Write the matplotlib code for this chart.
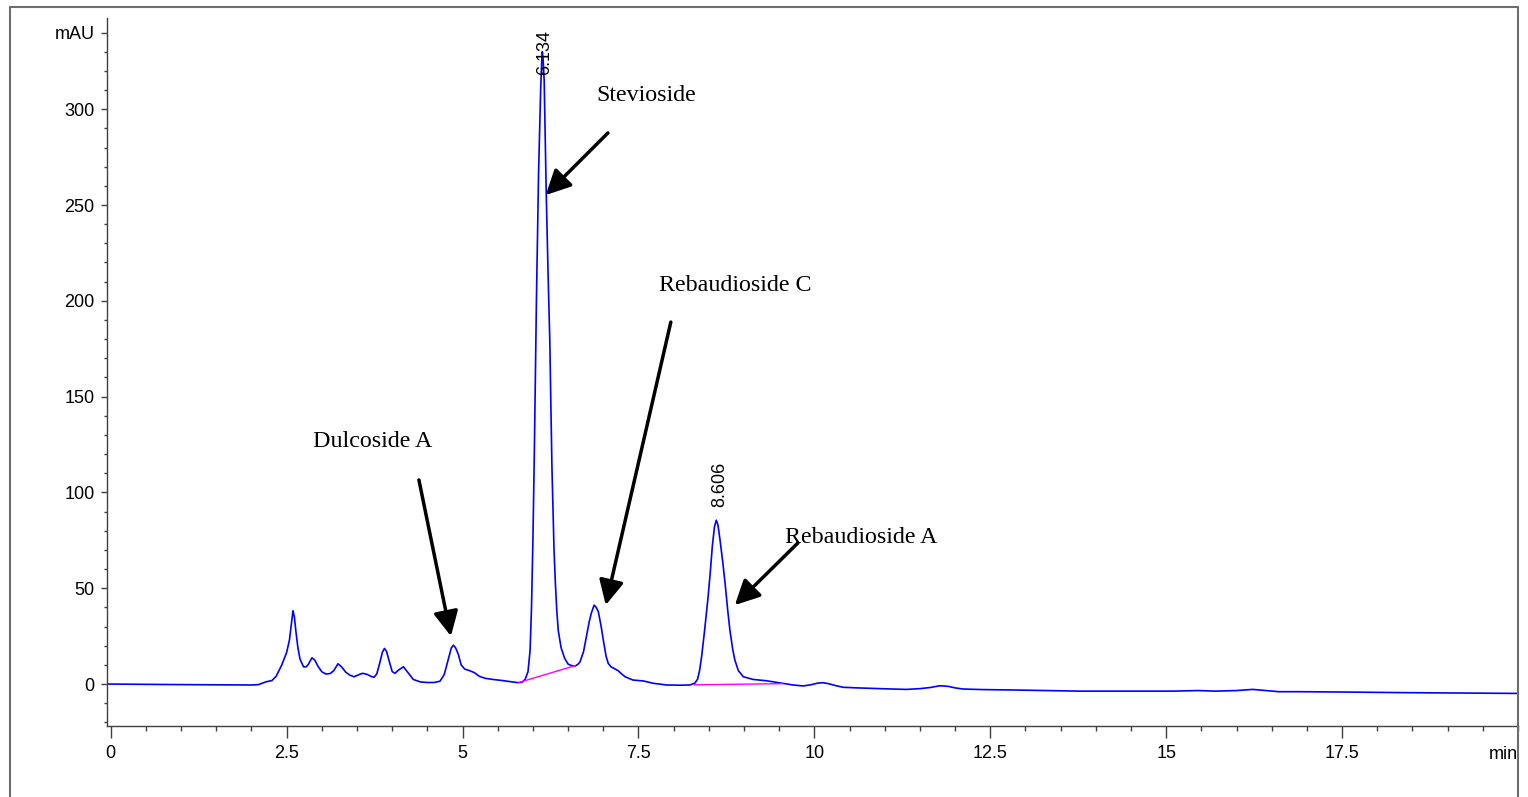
import matplotlib
matplotlib.use("Agg")
import matplotlib.pyplot as plt
from matplotlib.patches import Rectangle
from matplotlib.ticker import MultipleLocator, FixedLocator

# ---- data ----
time_min = [-0.05, 1.0, 2.0, 2.10, 2.21, 2.29, 2.35, 2.43, 2.50, 2.54, 2.57, 2.59, 2.61, 2.63,
            2.66, 2.69, 2.74, 2.78, 2.81, 2.86, 2.90, 2.95, 3.00, 3.06, 3.12, 3.17, 3.23, 3.28,
            3.34, 3.40, 3.46, 3.52, 3.58, 3.64, 3.70, 3.74, 3.78, 3.82, 3.86, 3.89, 3.92, 3.96,
            4.00, 4.04, 4.09, 4.16, 4.22, 4.30, 4.40, 4.50, 4.60, 4.68, 4.74, 4.79, 4.84, 4.87,
            4.90, 4.94, 4.98, 5.03, 5.10, 5.17, 5.24, 5.32, 5.43, 5.55, 5.65, 5.79, 5.85, 5.89,
            5.93, 5.96, 5.98, 6.00, 6.02, 6.05, 6.08, 6.11, 6.125, 6.134, 6.145, 6.16, 6.19,
            6.215, 6.24, 6.27, 6.30, 6.32, 6.34, 6.36, 6.40, 6.45, 6.50, 6.55, 6.60, 6.64, 6.67,
            6.72, 6.76, 6.80, 6.83, 6.87, 6.90, 6.93, 6.97, 7.00, 7.04, 7.07, 7.11, 7.16, 7.21,
            7.26, 7.31, 7.42, 7.57, 7.71, 7.90, 8.10, 8.23, 8.30, 8.34, 8.37, 8.40, 8.44, 8.49,
            8.52, 8.55, 8.58, 8.606, 8.63, 8.66, 8.70, 8.73, 8.77, 8.80, 8.84, 8.87, 8.92, 8.99,
            9.13, 9.32, 9.55, 9.70, 9.84, 9.95, 10.05, 10.12, 10.20, 10.30, 10.41, 10.60, 10.83,
            11.10, 11.31, 11.50, 11.65, 11.78, 11.90, 12.00, 12.11, 12.40, 12.82, 13.30, 13.77,
            14.30, 14.72, 15.10, 15.45, 15.70, 16.00, 16.23, 16.45, 16.60, 16.90, 17.60, 18.41,
            19.20, 20.00]
signal_mau = [0.0, -0.3, -0.5, -0.3, 1.2, 1.8, 4.0, 9.9, 16.5, 23, 32, 38.3, 35, 28,
              19, 13, 9.0, 9.0, 10.4, 13.7, 12.5, 9.0, 6.4, 5.2, 5.5, 7.0, 10.6, 9.0,
              6.2, 4.6, 3.8, 4.8, 5.6, 5.1, 4.0, 3.5, 5.2, 10.5, 16.5, 18.6, 17, 11.6,
              6.5, 5.6, 7.3, 9.0, 6.2, 2.4, 1.1, 0.8, 0.8, 1.5, 5, 12, 18.8, 20.3,
              19, 15.5, 10, 7.8, 7.0, 5.9, 4.0, 3.0, 2.4, 1.9, 1.4, 0.7, 1.0, 2.5,
              6.4, 17.7, 40, 75, 120, 200, 266, 310, 325, 330, 326, 315, 255,
              215, 179, 114, 70, 52, 38, 28, 19, 13.5, 10.4, 9.6, 9.4, 10.3, 11.6,
              17, 24.7, 32.5, 37, 41.2, 40, 37.7, 30, 23, 14.5, 10.8, 9.0, 8.0, 7.0,
              5.3, 3.8, 2.1, 1.6, 0.4, -0.5, -0.6, -0.5, 0.4, 2.5, 7.3, 15, 28, 45.6,
              58, 72, 82, 85.5, 83, 75, 63, 53, 38, 28, 18, 12.5, 7.0, 3.8,
              2.4, 1.7, 0.4, -0.5, -1.0, -0.4, 0.5, 0.7, 0.2, -0.8, -1.7, -2.0, -2.3,
              -2.6, -2.8, -2.4, -1.8, -0.9, -1.2, -2.0, -2.6, -2.9, -3.1, -3.4, -3.7,
              -3.7, -3.7, -3.7, -3.4, -3.7, -3.4, -2.8, -3.5, -4.0, -4.0, -4.2, -4.5,
              -4.7, -4.9]

# integration baselines (magenta)
baseline1_t = [5.80, 6.60]
baseline1_v = [0.8, 9.6]
baseline2_t = [8.30, 9.55]
baseline2_v = [-0.4, 0.2]

# peak retention-time labels
peak_labels = ["6.134", "8.606"]
peak_label_t = [6.16, 8.66]
peak_label_v = [318, 92.5]

# compound annotations: name, text pos, arrow start, arrow tip
compounds = ["Stevioside", "Rebaudioside C", "Dulcoside A", "Rebaudioside A"]
text_t = [6.896, 7.79, 2.874, 9.578]
text_v = [306.9, 208.2, 126.8, 76.7]
arrow_from_t = [7.066, 7.96, 4.38, 9.765]
arrow_from_v = [287.6, 188.9, 106.5, 73.6]
arrow_to_t = [6.183, 7.035, 4.835, 8.87]
arrow_to_v = [255.2, 41.2, 25.0, 41.2]

y_ticks = [0, 50, 100, 150, 200, 250, 300, 340]
y_tick_labels = ["0", "50", "100", "150", "200", "250", "300", "mAU"]
x_ticks = [0, 2.5, 5, 7.5, 10, 12.5, 15, 17.5]
x_tick_labels = ["0", "2.5", "5", "7.5", "10", "12.5", "15", "17.5"]

W, H = 1528, 797
fig = plt.figure(figsize=(W / 100, H / 100), dpi=100)
fig.patch.set_facecolor("white")

ax = fig.add_axes([107 / W, 1 - 726 / H, (1518 - 107) / W, (726 - 18) / H])
ax.set_xlim(-0.053, 20.0)
ax.set_ylim(-21.9, 347.6)

sans = ["Liberation Sans", "DejaVu Sans"]
serif = ["Liberation Serif", "DejaVu Serif"]

ax.plot(time_min, signal_mau, color="#0000ff", lw=1.2, solid_joinstyle="round")
ax.plot(baseline1_t, baseline1_v, color="#ff00ff", lw=1.0)
ax.plot(baseline2_t, baseline2_v, color="#ff00ff", lw=1.0)

for s in ["top", "right"]:
    ax.spines[s].set_visible(False)
for s in ["left", "bottom"]:
    ax.spines[s].set_color("#404040")
    ax.spines[s].set_linewidth(1.0)

ax.yaxis.set_major_locator(FixedLocator(y_ticks))
ax.set_yticklabels(y_tick_labels, fontfamily=sans, fontsize=13)
ax.yaxis.set_minor_locator(MultipleLocator(10))
ax.xaxis.set_major_locator(FixedLocator(x_ticks))
ax.set_xticklabels(x_tick_labels, fontfamily=sans, fontsize=13)
ax.xaxis.set_minor_locator(MultipleLocator(0.5))

ax.tick_params(axis="y", which="major", direction="out", length=4, width=1, color="#404040", pad=5)
ax.tick_params(axis="y", which="minor", direction="out", length=2.5, width=1, color="#404040")
ax.tick_params(axis="x", which="major", direction="out", length=8.5, width=1, color="#404040", pad=5)
ax.tick_params(axis="x", which="minor", direction="out", length=3.6, width=1, color="#404040")

# "min" axis unit label at right end
ax.annotate("min", xy=(20.0, 0), xycoords=("data", "axes fraction"),
            xytext=(0, -14.5), textcoords="offset points",
            ha="right", va="top", fontfamily=sans, fontsize=13)

for lab, t, v in zip(peak_labels, peak_label_t, peak_label_v):
    ax.text(t, v, lab, rotation=90, ha="center", va="bottom", fontfamily=sans, fontsize=13)

for name, tt, tv, ft, fv, at, av in zip(compounds, text_t, text_v, arrow_from_t, arrow_from_v,
                                          arrow_to_t, arrow_to_v):
    ax.text(tt, tv, name, ha="left", va="center", fontfamily=serif, fontsize=17.3)
    ax.annotate("", xy=(at, av), xytext=(ft, fv),
                arrowprops=dict(arrowstyle="-|>,head_length=0.5,head_width=0.25",
                                color="black", lw=2.5,
                                mutation_scale=30, shrinkA=0, shrinkB=0))

# outer frame
fig.add_artist(Rectangle((10 / W, -0.02), (1518 - 10) / W, 1 - 7 / H + 0.02,
                         transform=fig.transFigure, fill=False, ec="#6e6e6e", lw=1.5))

fig.savefig("out.png", dpi=100)
